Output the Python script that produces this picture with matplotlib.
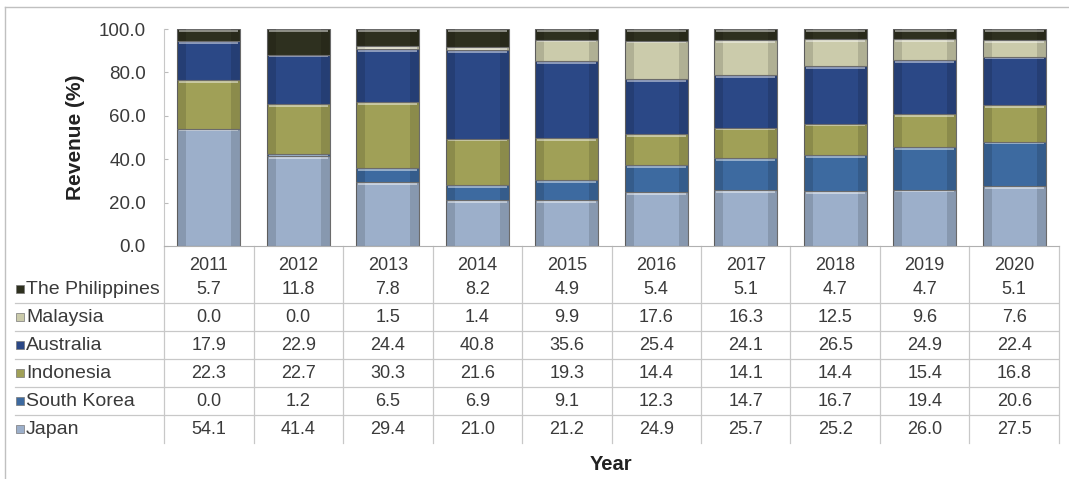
import numpy as np
import matplotlib
matplotlib.use("Agg")
from matplotlib import pyplot as plt
from matplotlib.transforms import blended_transform_factory
from matplotlib.patches import Rectangle
from matplotlib.lines import Line2D

plt.rcParams['font.family'] = ['Liberation Sans', 'DejaVu Sans']

years = ["2011", "2012", "2013", "2014", "2015", "2016", "2017", "2018", "2019", "2020"]
japan = [54.1, 41.4, 29.4, 21.0, 21.2, 24.9, 25.7, 25.2, 26.0, 27.5]
south_korea = [0.0, 1.2, 6.5, 6.9, 9.1, 12.3, 14.7, 16.7, 19.4, 20.6]
indonesia = [22.3, 22.7, 30.3, 21.6, 19.3, 14.4, 14.1, 14.4, 15.4, 16.8]
australia = [17.9, 22.9, 24.4, 40.8, 35.6, 25.4, 24.1, 26.5, 24.9, 22.4]
malaysia = [0.0, 0.0, 1.5, 1.4, 9.9, 17.6, 16.3, 12.5, 9.6, 7.6]
philippines = [5.7, 11.8, 7.8, 8.2, 4.9, 5.4, 5.1, 4.7, 4.7, 5.1]

# bottom to top stacking order
series = [("Japan", japan, "#9cafca"),
          ("South Korea", south_korea, "#3d6aa0"),
          ("Indonesia", indonesia, "#a0a057"),
          ("Australia", australia, "#2b4886"),
          ("Malaysia", malaysia, "#cbcbab"),
          ("The Philippines", philippines, "#2e301f")]

W, H = 1069, 479
fig = plt.figure(figsize=(W / 100, H / 100), dpi=100)
txt = "#3a3a3a"

def fx(px):
    return px / W

def fy(py):
    return 1 - py / H

ax = fig.add_axes([fx(164), fy(246), fx(1059) - fx(164), fy(29) - fy(246)])

x = np.arange(len(years))
bw = 0.7
bottom = np.zeros(len(years))
for name, vals, col in series:
    vals = np.array(vals)
    ax.bar(x, vals, width=bw, bottom=bottom, color=col, edgecolor="#6b6b6b", linewidth=0.8)
    # darker shading near the left and right edges of each segment
    for off in (-bw / 2 + 0.05, bw / 2 - 0.05):
        ax.bar(x + off, vals, width=0.1, bottom=bottom, color="black", alpha=0.13, linewidth=0)
    # light highlight along the top of each segment
    hl = np.minimum(vals, 0.9)
    ax.bar(x, hl, width=bw - 0.04, bottom=bottom + vals - hl - 0.3,
           color="white", alpha=0.45, linewidth=0)
    bottom += vals

ax.set_xlim(-0.5, len(years) - 0.5)
ax.set_ylim(0, 100)
ax.set_yticks(np.arange(0, 101, 20))
ax.set_yticklabels([f"{v:.1f}" for v in np.arange(0, 101, 20)], fontsize=13.5, color=txt)
ax.set_xticks([])
ax.tick_params(axis="y", direction="in", length=3, color="#bbbbbb", pad=13)
for s in ["top", "right"]:
    ax.spines[s].set_visible(False)
ax.spines["left"].set_color("#c8c8c8")
ax.spines["bottom"].set_color("#b0b0b0")
ax.set_ylabel("Revenue (%)", fontsize=15, fontweight="bold", color="#222222", labelpad=10)

# data table below the axes
tr = blended_transform_factory(ax.transData, fig.transFigure)
row_y = [289, 317, 345, 373, 401, 429]
rows = list(reversed(series))

for i, yr in enumerate(years):
    ax.text(i, fy(265), yr, transform=tr, ha="center", va="center", fontsize=13, color=txt)

for r, (name, vals, col) in enumerate(rows):
    yy = fy(row_y[r])
    fig.patches.append(Rectangle((fx(16), yy - 0.008), fx(8), 0.017, transform=fig.transFigure,
                                 facecolor=col, edgecolor="#777777", linewidth=0.5))
    fig.text(fx(26), yy, name, ha="left", va="center", fontsize=14, color=txt)
    for i, v in enumerate(vals):
        ax.text(i, yy, f"{v:.1f}", transform=tr, ha="center", va="center", fontsize=13, color=txt)

for r in range(len(rows) - 1):
    yl = fy((row_y[r] + row_y[r + 1]) / 2)
    fig.add_artist(Line2D([fx(15), fx(1058)], [yl, yl], color="#c8c8c8", linewidth=0.9))

for i in range(len(years) + 1):
    ax.add_artist(Line2D([i - 0.5, i - 0.5], [fy(246), fy(443)], transform=tr, color="#c8c8c8",
                         linewidth=0.9, clip_on=False))

fig.text(fx(611), fy(465), "Year", ha="center", va="center", fontsize=14.5, fontweight="bold", color="#222222")

# outer frame lines
fig.add_artist(Line2D([fx(5), 1], [fy(7), fy(7)], color="#c0c0c0", linewidth=1))
fig.add_artist(Line2D([fx(5), fx(5)], [fy(7), 0], color="#c0c0c0", linewidth=1))

fig.savefig("out.png", dpi=100)
